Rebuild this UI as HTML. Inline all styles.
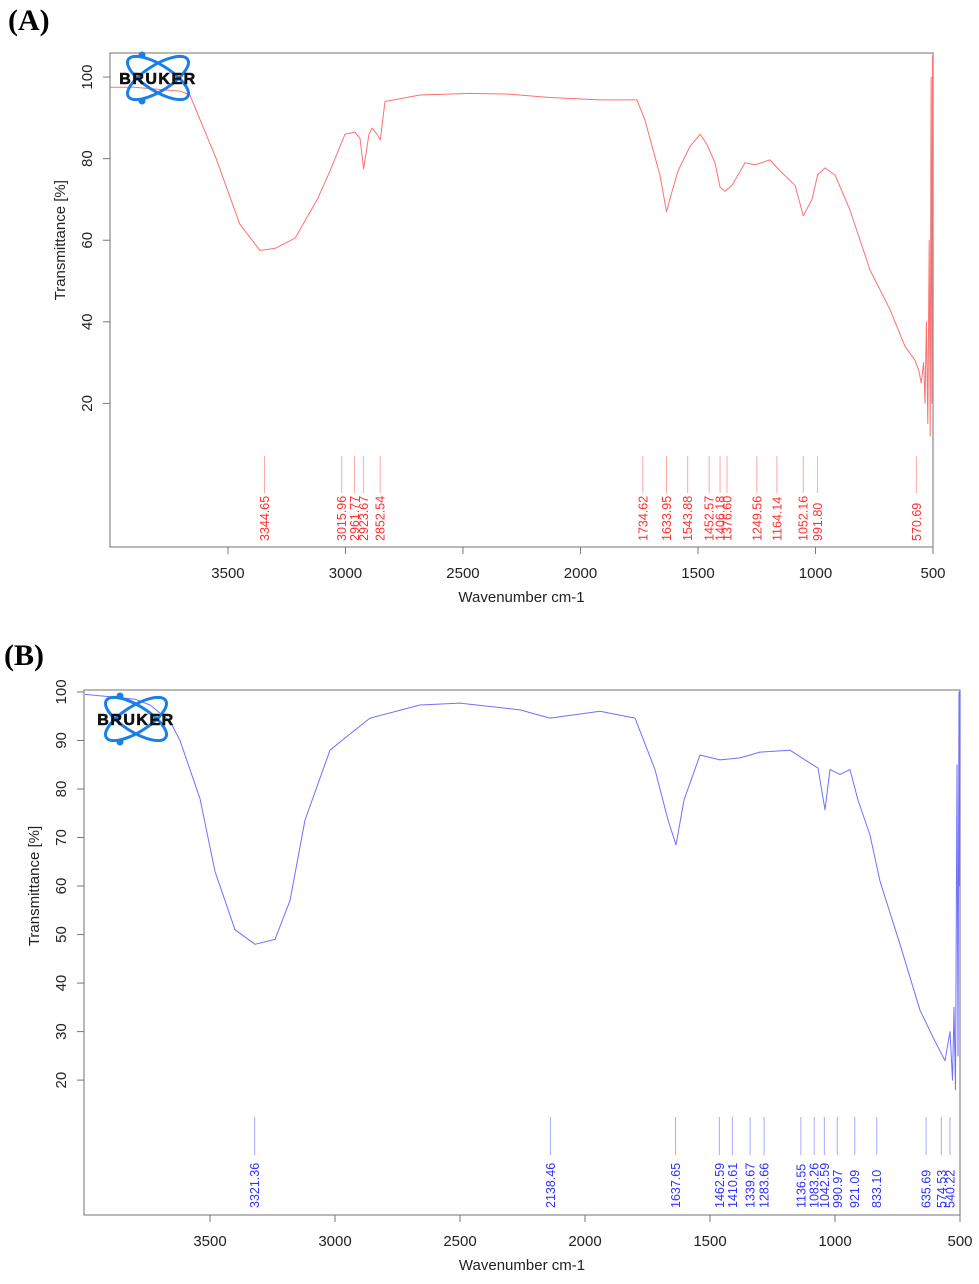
<!DOCTYPE html>
<html><head><meta charset="utf-8">
<style>
html,body{margin:0;padding:0;background:#fff;}
svg{display:block;font-family:"Liberation Sans",sans-serif;}
</style></head>
<body>
<svg id="fig" width="979" height="1284" viewBox="0 0 979 1284">
<text x="8" y="30" font-family="Liberation Serif" font-weight="bold" font-size="30">(A)</text>
<text x="4" y="665" font-family="Liberation Serif" font-weight="bold" font-size="30">(B)</text>
<g id="pa"></g>
<g id="pb"></g>
</svg>
<script>
// Panel A data
const specA_wn=[4000,3900,3800,3700,3662,3550,3450,3364,3300,3215,3120,3066,3002,2960,2938,2923,2900,2887,2866,2852,2832,2683,2470,2300,2130,1917,1760,1726,1662,1634,1610,1585,1534,1491,1462,1428,1406,1385,1355,1300,1257,1194,1151,1087,1052,1015,991,960,917,853,768,683,619,577,560,550,540,534,528,522,516,512,508,505,502,500];
const specA_t=[97.5,97.5,97,96.5,95.6,80,64,57.5,58,60.5,70,77,86,86.5,85,77.5,86,87.5,86,84.6,94,95.6,96,95.8,95,94.4,94.4,89.5,76,67,72,77,83,86,83.5,79,73,72,73.5,79,78.5,79.7,77,73.5,66,70,76,77.7,76,67.4,52.7,43,34,30.6,28,25,30,20,40,15,60,12,100,20,105,100];
const peaksA=[3344.65,3015.96,2961.77,2923.67,2852.54,1734.62,1633.95,1543.88,1452.57,1406.18,1376.60,1249.56,1164.14,1052.16,991.80,570.69];
const ticksA_y=[20,40,60,80,100];
const ticksX=[3500,3000,2500,2000,1500,1000,500];
// Panel B data
const specB_wn=[4000,3900,3800,3740,3660,3620,3540,3480,3400,3320,3240,3180,3120,3020,2960,2860,2660,2500,2260,2140,1940,1800,1720,1668,1636,1604,1540,1460,1380,1300,1180,1120,1068,1040,1020,980,940,908,860,820,740,660,600,560,540,530,524,518,512,508,504,502,500];
const specB_t=[99.5,99,98.5,97.3,94,90,78,63,51,48,49,57,73.6,88,90.5,94.6,97.3,97.7,96.3,94.6,96,94.6,84,73.6,68.5,77.7,87,86,86.4,87.6,88,86,84.3,75.7,84,83,84,77.7,70.5,61,48,34.4,28,24,30,20,35,18,85,25,100,60,100];
const peaksB=[3321.36,2138.46,1637.65,1462.59,1410.61,1339.67,1283.66,1136.55,1083.26,1042.59,990.97,921.09,833.10,635.69,574.53,540.22];
const ticksB_y=[20,30,40,50,60,70,80,90,100];

const NS="http://www.w3.org/2000/svg";
function mk(p,tag,at){const e=document.createElementNS(NS,tag);for(const k in at)e.setAttribute(k,at[k]);p.appendChild(e);return e;}

function panel(g,cfg){
  const {L,T,R,B,wnL,wnR,tTop,tBot,col,lab,wn,tv,peaks,yt,lineTop,lineBot,labY}=cfg;
  const sx=w=>L+(wnL-w)/(wnL-wnR)*(R-L);
  const sy=t=>T+(tTop-t)/(tTop-tBot)*(B-T);
  const box=mk(g,'rect',{x:L,y:T,width:R-L,height:B-T,fill:'none',stroke:'#888','stroke-width':1.2});
  
  ticksX.forEach(v=>{
    const x=sx(v);
    const tl=mk(g,'line',{x1:x,y1:B,x2:x,y2:B+7,stroke:'#777'});
    
    const t=mk(g,'text',{x:x,y:B+31,'text-anchor':'middle','font-size':15,fill:'#222'});t.textContent=v;
    
  });
  yt.forEach(v=>{
    const y=sy(v);
    const tl=mk(g,'line',{x1:L-7,y1:y,x2:L,y2:y,stroke:'#777'});
    
    const t=mk(g,'text',{x:L-18,y:y,'text-anchor':'middle','font-size':15,fill:'#222',transform:`rotate(-90 ${L-18} ${y})`});t.textContent=v;
    
  });
  const xt=mk(g,'text',{x:(L+R)/2,y:B+55,'text-anchor':'middle','font-size':15,fill:'#222'});xt.textContent='Wavenumber cm-1';
  
  const yx=L-45,yy=(sy(100)+sy(20))/2;
  const ytl=mk(g,'text',{x:yx,y:yy,'text-anchor':'middle','font-size':15,fill:'#222',transform:`rotate(-90 ${yx} ${yy})`});ytl.textContent='Transmittance [%]';
  
  let d='';wn.forEach((w,i)=>{d+=(i?'L':'M')+sx(w).toFixed(1)+','+Math.max(T,Math.min(B,sy(tv[i]))).toFixed(1);});
  const p=mk(g,'path',{d:d,fill:'none',stroke:col,'stroke-width':1,'stroke-linejoin':'round'});
  
  peaks.forEach(v=>{
    const x=sx(v);
    const l=mk(g,'line',{x1:x,y1:lineTop,x2:x,y2:lineBot,stroke:col,'stroke-width':1,opacity:0.6});
    
    const t=mk(g,'text',{x:x+4.5,y:labY,'text-anchor':'start','font-size':12.5,fill:lab,transform:`rotate(-90 ${x+4.5} ${labY})`});
    t.textContent=v.toFixed(2);
    
  });
  const lx=cfg.logoX,ly=cfg.logoY;
  const lg=mk(g,'g',{});
  
  mk(lg,'ellipse',{cx:lx,cy:ly,rx:35,ry:13,fill:'none',stroke:'#1a7fe6','stroke-width':3,transform:`rotate(32 ${lx} ${ly})`});
  mk(lg,'ellipse',{cx:lx,cy:ly,rx:35,ry:13,fill:'none',stroke:'#1a7fe6','stroke-width':3,transform:`rotate(-32 ${lx} ${ly})`});
  mk(lg,'circle',{cx:lx-16,cy:ly-23,r:3.5,fill:'#1a7fe6'});
  mk(lg,'circle',{cx:lx-16,cy:ly+23,r:3.5,fill:'#1a7fe6'});
  const bt=mk(lg,'text',{x:lx,y:ly+6,'text-anchor':'middle','font-size':16,'font-weight':'bold',fill:'#111',stroke:'#111','stroke-width':0.6,'letter-spacing':'1.5'});bt.textContent='BRUKER';
}
panel(document.getElementById('pa'),{L:110,T:53,R:933,B:547,wnL:4002,wnR:500,tTop:105.9,tBot:-15.2,col:'#ff7070',lab:'#ff3030',wn:specA_wn,tv:specA_t,peaks:peaksA,yt:ticksA_y,lineTop:456,lineBot:493,labY:541,logoX:158,logoY:78});
panel(document.getElementById('pb'),{L:84,T:690,R:960,B:1215,wnL:4004,wnR:500,tTop:100.4,tBot:-7.8,col:'#7070ff',lab:'#3030ff',wn:specB_wn,tv:specB_t,peaks:peaksB,yt:ticksB_y,lineTop:1117,lineBot:1155,labY:1208,logoX:136,logoY:719});
</script>
</body></html>
